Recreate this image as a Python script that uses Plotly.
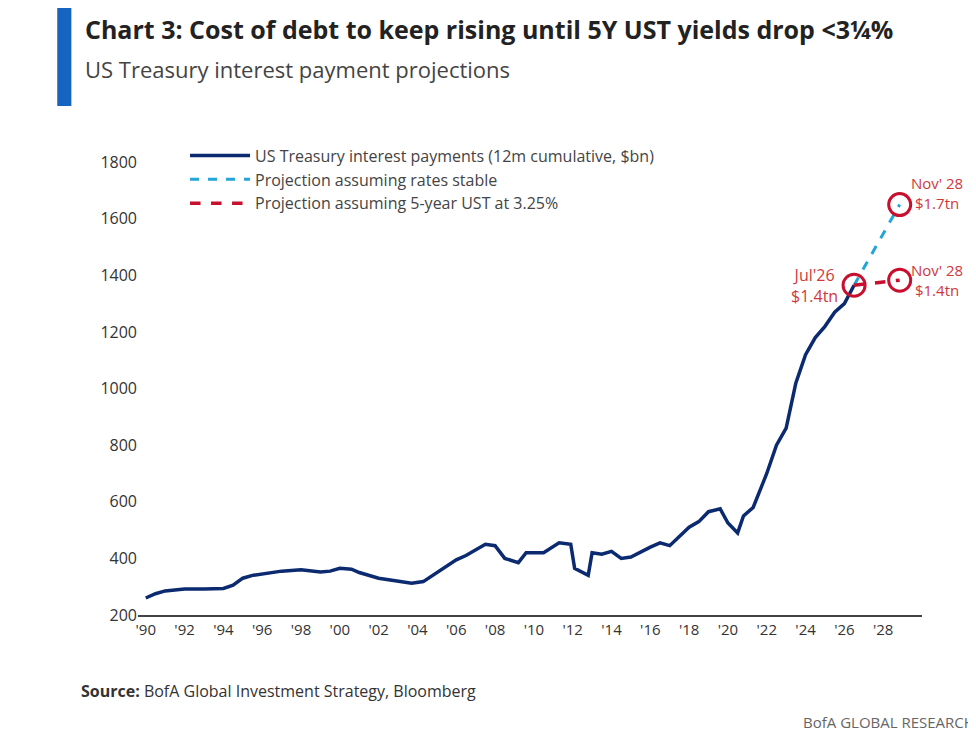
import plotly.graph_objects as go

years = [1990.0,1990.5,1991.0,1992.0,1993.0,1994.0,1994.5,1995.0,1995.5,1996.0,1997.0,1998.0,1999.0,1999.5,2000.0,2000.6,2001.0,2002.0,2003.0,2003.7,2004.3,2005.0,2006.0,2006.5,2007.0,2007.5,2008.0,2008.5,2009.2,2009.6,2010.5,2011.3,2011.9,2012.1,2012.8,2013.0,2013.5,2014.0,2014.5,2015.0,2016.0,2016.5,2017.0,2018.0,2018.5,2019.0,2019.6,2020.0,2020.5,2020.8,2021.3,2022.0,2022.5,2023.0,2023.5,2024.0,2024.5,2025.0,2025.5,2026.0,2026.5]
payments = [260,275,285,292,292,294,305,330,340,345,355,360,352,355,365,362,350,330,318,312,318,350,395,410,430,450,445,400,385,420,420,455,450,365,340,420,415,425,400,405,440,455,445,510,530,565,575,525,490,550,580,700,800,860,1020,1120,1180,1220,1270,1300,1365]

proj_x = [2026.5, 2028.85]
proj_stable = [1365, 1650]
proj_325 = [1365, 1383]

navy = "#0b2a6f"
fig = go.Figure()
fig.add_trace(go.Scatter(x=years, y=payments, mode="lines", line=dict(color=navy, width=3.5),
                         name="US Treasury interest payments (12m cumulative, $bn)"))
fig.add_trace(go.Scatter(x=proj_x, y=proj_stable, mode="lines", line=dict(color="#22a5d8", width=3, dash="dash"),
                         name="Projection assuming rates stable"))
fig.add_trace(go.Scatter(x=proj_x, y=proj_325, mode="lines", line=dict(color="#c8102e", width=3.5, dash="dash"),
                         name="Projection assuming 5-year UST at 3.25%"))
cx = [proj_x[0], proj_x[1], proj_x[1]]
cy = [proj_stable[0], proj_stable[1], proj_325[1]]
fig.add_trace(go.Scatter(x=cx, y=cy, mode="markers", showlegend=False, hoverinfo="skip",
                         marker=dict(symbol="circle-open", size=22, color="#c8102e", line=dict(width=3))))

red = "#d0383c"
fig.add_annotation(x=proj_x[0], y=proj_stable[0], text="Jul'26<br>$1.4tn", showarrow=False, xanchor="right", xshift=-14,
                   font=dict(color=red, size=16), align="center")
fig.add_annotation(x=proj_x[1], y=proj_stable[1], text="Nov' 28<br>$1.7tn", showarrow=False, xanchor="left", xshift=9,
                   yshift=12, font=dict(color=red, size=15), align="center")
fig.add_annotation(x=proj_x[1], y=proj_325[1], text="Nov' 28<br>$1.4tn", showarrow=False, xanchor="left", xshift=9,
                   font=dict(color=red, size=15), align="center")

tickvals = list(range(1990, 2029, 2))
ticktext = ["'%02d" % (y % 100) for y in tickvals]

fig.update_layout(
    width=976, height=737, paper_bgcolor="white", plot_bgcolor="white",
    margin=dict(l=130, r=62, t=140, b=130),
    font=dict(family="Open Sans", color="#333", size=16),
    xaxis=dict(range=[1989.6, 2030.0], tickvals=tickvals, ticktext=ticktext, showgrid=False,
               showline=True, linecolor="#444", linewidth=2, ticks="", zeroline=False, tickfont=dict(size=15)),
    yaxis=dict(range=[200, 1850], tickvals=list(range(200, 1801, 200)), showgrid=False, zeroline=False,
               ticks="", showline=False, tickfont=dict(size=16)),
    legend=dict(x=0.06, y=1.02, xanchor="left", yanchor="top", bgcolor="rgba(0,0,0,0)",
                font=dict(size=16, color="#444"), tracegroupgap=16, itemwidth=60),
    showlegend=True,
)
fig.add_shape(type="rect", xref="paper", yref="paper", x0=-0.103, x1=-0.085, y0=1.09, y1=1.3,
              fillcolor="#1565c0", line_width=0)
fig.add_annotation(xref="paper", yref="paper", x=-0.07, y=1.295, xanchor="left", yanchor="top", showarrow=False,
                   text="<b>Chart 3: Cost of debt to keep rising until 5Y UST yields drop <3¼%</b>",
                   font=dict(size=25, color="#222", family="Open Sans"))
fig.add_annotation(xref="paper", yref="paper", x=-0.07, y=1.205, xanchor="left", yanchor="top", showarrow=False,
                   text="US Treasury interest payment projections", font=dict(size=22, color="#444"))
fig.add_annotation(xref="paper", yref="paper", x=-0.075, y=-0.135, xanchor="left", yanchor="top", showarrow=False,
                   text="<b>Source:</b> BofA Global Investment Strategy, Bloomberg", font=dict(size=16, color="#333"))
fig.add_annotation(xref="paper", yref="paper", x=1.07, y=-0.255, xanchor="right", yanchor="bottom", showarrow=False,
                   text="BofA GLOBAL RESEARCH", font=dict(size=15, color="#666"))
fig.write_html("out.html")
